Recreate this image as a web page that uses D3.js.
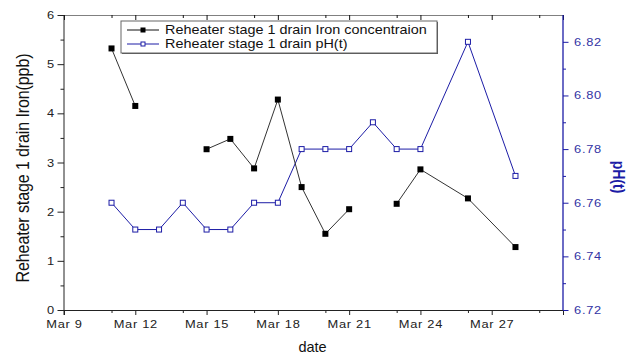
<!DOCTYPE html>
<html>
<head>
<meta charset="utf-8">
<script src="https://cdn.jsdelivr.net/npm/d3@7/dist/d3.min.js"></script>
<style>
  html, body { margin: 0; padding: 0; background: #fff; }
  svg { display: block; font-family: "Liberation Sans", Arial, sans-serif; }
</style>
</head>
<body>
<svg id="chart" width="637" height="354"></svg>
<script>
// Sampling dates (March) shared by both series
const dates = ["2009-03-11","2009-03-12","2009-03-13","2009-03-14","2009-03-15","2009-03-16",
               "2009-03-17","2009-03-18","2009-03-19","2009-03-20","2009-03-21","2009-03-22",
               "2009-03-23","2009-03-24","2009-03-26","2009-03-28"];
// Iron concentration (ppb); null where no sample was taken
const ironValues = [5.32, 4.15, null, null, 3.27, 3.48, 2.88, 4.28, 2.50, 1.55, 2.05, null, 2.16, 2.86, 2.27, 1.28];
// pH(t)
const phValues = [6.76, 6.75, 6.75, 6.76, 6.75, 6.75, 6.76, 6.76, 6.78, 6.78, 6.78, 6.79, 6.78, 6.78, 6.82, 6.77];

const seriesNames = ["Reheater stage 1 drain Iron concentraion", "Reheater stage 1 drain pH(t)"];
const xMajorTicks = ["2009-03-09","2009-03-12","2009-03-15","2009-03-18","2009-03-21","2009-03-24","2009-03-27","2009-03-30"];
const xMinorTicks = ["2009-03-11","2009-03-14","2009-03-17","2009-03-20","2009-03-23","2009-03-26","2009-03-29"];
const xDomain = ["2009-03-09", "2009-03-30"];
const ironTicks = [0, 1, 2, 3, 4, 5, 6];
const ironMinorTicks = [0.5, 1.5, 2.5, 3.5, 4.5, 5.5];
const phTicks = [6.72, 6.74, 6.76, 6.78, 6.80, 6.82];
const phMinorTicks = [6.73, 6.75, 6.77, 6.79, 6.81];
const phDomain = [6.72, 6.83];

const W = 637, H = 354;
const margin = { left: 64, right: 74, top: 15, bottom: 44 };
const x0 = margin.left, x1 = W - margin.right, y0 = H - margin.bottom, y1 = margin.top;
const SX = 1.17; // wide glyphs
const BLUE = "#1c1ca6";
const BLUE_TXT = "#3434a4";

const parse = d3.utcParse("%Y-%m-%d");
const svg = d3.select("#chart");

const x = d3.scaleUtc().domain(xDomain.map(parse)).range([x0, x1]);
const yL = d3.scaleLinear().domain([0, 6]).range([y0, y1]);
const yR = d3.scaleLinear().domain(phDomain).range([y0, y1]);

const rows = dates.map((d, i) => ({ date: parse(d), iron: ironValues[i], ph: phValues[i] }));

// top frame line with inward ticks
const topMajor = svg.append("g").attr("transform", `translate(0,${y1})`)
  .call(d3.axisBottom(x).tickValues(xMajorTicks.map(parse)).tickSize(5).tickFormat(""));
topMajor.select(".domain").attr("stroke", "#808080");
topMajor.selectAll(".tick line").attr("stroke", "#111");
const topMinor = svg.append("g").attr("transform", `translate(0,${y1})`)
  .call(d3.axisBottom(x).tickValues(xMinorTicks.map(parse)).tickSize(3).tickFormat(""));
topMinor.select(".domain").remove();
topMinor.selectAll(".tick line").attr("stroke", "#111");

// bottom axis
const fmt = d3.utcFormat("%b %-d");
const bottom = svg.append("g").attr("transform", `translate(0,${y0})`)
  .call(d3.axisBottom(x).tickValues(xMajorTicks.map(parse)).tickSize(5).tickPadding(5)
    .tickFormat(d => +d === +parse(xDomain[1]) ? "" : fmt(d)));
bottom.select(".domain").attr("stroke", "#222");
bottom.selectAll(".tick line").attr("stroke", "#222");
bottom.selectAll(".tick text").attr("fill", "#222").attr("font-size", 11)
  .attr("letter-spacing", 0.6).attr("transform", `scale(${SX},1)`);
const bottomMinor = svg.append("g").attr("transform", `translate(0,${y0})`)
  .call(d3.axisBottom(x).tickValues(xMinorTicks.map(parse)).tickSize(3).tickFormat(""));
bottomMinor.select(".domain").remove();
bottomMinor.selectAll(".tick line").attr("stroke", "#222");

// left axis
const left = svg.append("g").attr("transform", `translate(${x0},0)`)
  .call(d3.axisLeft(yL).tickValues(ironTicks).tickSize(6.5).tickPadding(2).tickFormat(d3.format("d")));
left.select(".domain").attr("stroke", "#222").attr("d", `M0,${y1}V${y0 + 5}`);
left.selectAll(".tick line").attr("stroke", "#222");
left.selectAll(".tick text").attr("fill", "#222").attr("font-size", 11)
  .attr("transform", `scale(${SX},1)`);
const leftMinor = svg.append("g").attr("transform", `translate(${x0},0)`)
  .call(d3.axisLeft(yL).tickValues(ironMinorTicks).tickSize(3.5).tickFormat(""));
leftMinor.select(".domain").remove();
leftMinor.selectAll(".tick line").attr("stroke", "#222");

// right axis
const right = svg.append("g").attr("transform", `translate(${x1},0)`)
  .call(d3.axisRight(yR).tickValues(phTicks).tickSize(5.5).tickPadding(4).tickFormat(d3.format(".2f")));
right.select(".domain").attr("stroke", BLUE).attr("stroke-width", 1.3).attr("d", `M0,${y1}V${y0}`);
right.selectAll(".tick line").attr("stroke", BLUE);
right.selectAll(".tick text").attr("fill", BLUE_TXT).attr("font-size", 11)
  .attr("letter-spacing", 0.6).attr("transform", `scale(${SX},1)`);
const rightMinor = svg.append("g").attr("transform", `translate(${x1},0)`)
  .call(d3.axisRight(yR).tickValues(phMinorTicks).tickSize(3).tickFormat(""));
rightMinor.select(".domain").remove();
rightMinor.selectAll(".tick line").attr("stroke", BLUE);

// axis titles
svg.append("text")
  .attr("transform", `translate(29,168) scale(${SX},1) rotate(-90)`)
  .attr("text-anchor", "middle").attr("font-size", 16).attr("fill", "#111")
  .attr("letter-spacing", -0.1)
  .text("Reheater stage 1 drain Iron(ppb)");
svg.append("text")
  .attr("transform", `translate(613,177) scale(${SX},1) rotate(90)`)
  .attr("text-anchor", "middle").attr("font-size", 14).attr("fill", BLUE)
  .attr("font-weight", "bold")
  .text("pH(t)");
svg.append("text")
  .attr("x", (x0 + x1) / 2 - 1).attr("y", 352)
  .attr("text-anchor", "middle").attr("font-size", 14.5).attr("fill", "#111")
  .text("date");

// pH series
const phLine = d3.line().x(d => x(d.date)).y(d => yR(d.ph));
svg.append("path").datum(rows).attr("d", phLine)
  .attr("fill", "none").attr("stroke", BLUE).attr("stroke-width", 1);
svg.append("g").selectAll("rect").data(rows).join("rect")
  .attr("x", d => x(d.date) - 2.5).attr("y", d => yR(d.ph) - 2.5)
  .attr("width", 5).attr("height", 5)
  .attr("fill", "#fff").attr("stroke", BLUE).attr("stroke-width", 1);

// iron series (broken where samples are missing)
const ironLine = d3.line().defined(d => d.iron != null).x(d => x(d.date)).y(d => yL(d.iron));
svg.append("path").datum(rows).attr("d", ironLine)
  .attr("fill", "none").attr("stroke", "#333").attr("stroke-width", 1);
svg.append("g").selectAll("rect").data(rows.filter(d => d.iron != null)).join("rect")
  .attr("x", d => x(d.date) - 3).attr("y", d => yL(d.iron) - 3)
  .attr("width", 6).attr("height", 6).attr("fill", "#000");

// legend
const lg = svg.append("g");
const lx = 121, ly = 21, lw = 316, lh = 32;
lg.append("rect").attr("x", lx + 1).attr("y", ly + 1).attr("width", lw).attr("height", lh)
  .attr("fill", "#555");
lg.append("rect").attr("x", lx).attr("y", ly).attr("width", lw).attr("height", lh)
  .attr("fill", "#fff").attr("stroke", "#666").attr("stroke-width", 1);
const entries = [
  { name: seriesNames[0], color: "#111", filled: true },
  { name: seriesNames[1], color: BLUE, filled: false }
];
entries.forEach((e, i) => {
  const cy = ly + 9 + i * 14;
  lg.append("line").attr("x1", 127).attr("x2", 159).attr("y1", cy).attr("y2", cy)
    .attr("stroke", e.color).attr("stroke-width", 1);
  if (e.filled) {
    lg.append("rect").attr("x", 140.5).attr("y", cy - 2.5).attr("width", 5).attr("height", 5).attr("fill", "#000");
  } else {
    lg.append("rect").attr("x", 141).attr("y", cy - 2).attr("width", 4).attr("height", 4)
      .attr("fill", "#fff").attr("stroke", e.color);
  }
  lg.append("text").attr("transform", `translate(165,${cy + 4.3}) scale(1.2,1)`)
    .attr("font-size", 12).attr("fill", "#111")
    .text(e.name);
});
</script>
</body>
</html>
